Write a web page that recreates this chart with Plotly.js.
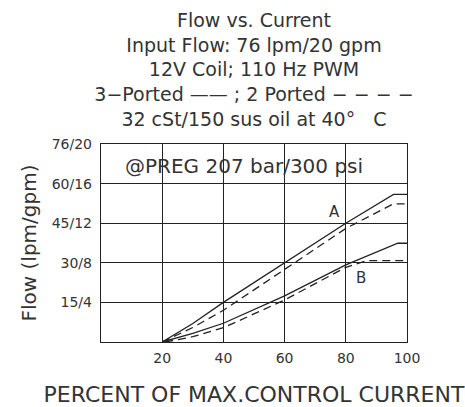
<!DOCTYPE html>
<html>
<head>
<meta charset="utf-8">
<script src="https://cdn.plot.ly/plotly-3.0.1.min.js"></script>
<style>html,body{margin:0;padding:0;background:#fff;}#chart{width:465px;height:407px;}</style>
</head>
<body>
<div id="chart"></div>
<script>
// Data (x = % of max control current, y = flow in lpm)
const xA3 = [20, 30, 40, 60, 80, 95.6, 100];
const yA3 = [0, 7, 15, 30, 45, 55.9, 55.9];
const xA2 = [20, 30, 40, 60, 80, 95.5, 100];
const yA2 = [0, 5.5, 12, 27.5, 43, 52.3, 52.3];
const xB3 = [20, 30, 40, 60, 80, 97, 100];
const yB3 = [0, 3.3, 7.1, 17.5, 29.2, 37.4, 37.4];
const xB2 = [21, 30, 40, 60, 80, 86.8, 100];
const yB2 = [0, 2, 5.4, 15.9, 28.3, 30.8, 30.8];

const xTickVals = [0, 20, 40, 60, 80, 100];
const xTickText = ['', '20', '40', '60', '80', '100'];
const yTickVals = [0, 15, 30, 45, 60, 75];
const yTickText = ['', '15/4', '30/8', '45/12', '60/16', '76/20'];

const titleLines = [
  'Flow vs. Current',
  'Input Flow: 76 lpm/20 gpm',
  '12V Coil; 110 Hz PWM',
  '3\u2212Ported \u2014\u2014 ; 2 Ported \u2212 \u2212 \u2212 \u2212',
  '32 cSt/150 sus oil at 40\u00b0\u00a0\u00a0 C'
];

const FONT = 'DejaVu Sans, Liberation Sans, Arial, sans-serif';
const TXT = '#333333';
const LINE = '#222222';

function trace(x, y, dash) {
  return {x: x, y: y, type: 'scatter', mode: 'lines', showlegend: false,
    hoverinfo: 'skip',
    line: {color: LINE, width: 1.3, dash: dash, shape: 'linear'}};
}

const data = [
  trace(xA3, yA3, 'solid'),
  trace(xA2, yA2, '8px,5px'),
  trace(xB3, yB3, 'solid'),
  trace(xB2, yB2, '8px,5px')
];

const layout = {
  width: 465, height: 407,
  margin: {l: 101, r: 58, t: 144, b: 65, pad: 0},
  paper_bgcolor: '#ffffff', plot_bgcolor: '#ffffff',
  font: {family: FONT, color: TXT, size: 14},
  title: {
    text: titleLines.join('<br>'),
    font: {family: FONT, size: 19, color: TXT},
    x: 0.5, xref: 'paper', xanchor: 'center',
    y: 1 - 27 / 407, yref: 'container', yanchor: 'top'
  },
  xaxis: {
    range: [0, 100], tickvals: xTickVals, ticktext: xTickText,
    showgrid: true, gridcolor: LINE, gridwidth: 1.2,
    showline: true, mirror: true, linecolor: LINE, linewidth: 1.2,
    zeroline: false, ticks: '', ticklabelstandoff: 3,
    tickfont: {family: FONT, size: 14, color: TXT},
    fixedrange: true,
    title: {text: 'PERCENT OF MAX.CONTROL CURRENT', standoff: 28,
      font: {family: FONT, size: 22, color: TXT}}
  },
  yaxis: {
    range: [0, 75], tickvals: yTickVals, ticktext: yTickText,
    showgrid: true, gridcolor: LINE, gridwidth: 1.2,
    showline: true, mirror: true, linecolor: LINE, linewidth: 1.2,
    zeroline: false, ticks: '', ticklabelstandoff: 5,
    tickfont: {family: FONT, size: 14, color: TXT},
    fixedrange: true,
    title: {text: 'Flow (lpm/gpm)', standoff: 9,
      font: {family: FONT, size: 20, color: TXT}}
  },
  annotations: [
    {x: 7.2, y: 66.7, xref: 'x', yref: 'y', xanchor: 'left', yanchor: 'middle',
     text: '@PREG 207 bar/300 psi', showarrow: false,
     font: {family: FONT, size: 20, color: TXT}},
    {x: 76.2, y: 49.4, xref: 'x', yref: 'y', xanchor: 'center', yanchor: 'middle',
     text: 'A', showarrow: false, font: {family: FONT, size: 15, color: TXT}},
    {x: 84.9, y: 24.1, xref: 'x', yref: 'y', xanchor: 'center', yanchor: 'middle',
     text: 'B', showarrow: false, font: {family: FONT, size: 15, color: TXT}}
  ]
};

Plotly.newPlot('chart', data, layout, {staticPlot: true, displayModeBar: false});
</script>
</body>
</html>
